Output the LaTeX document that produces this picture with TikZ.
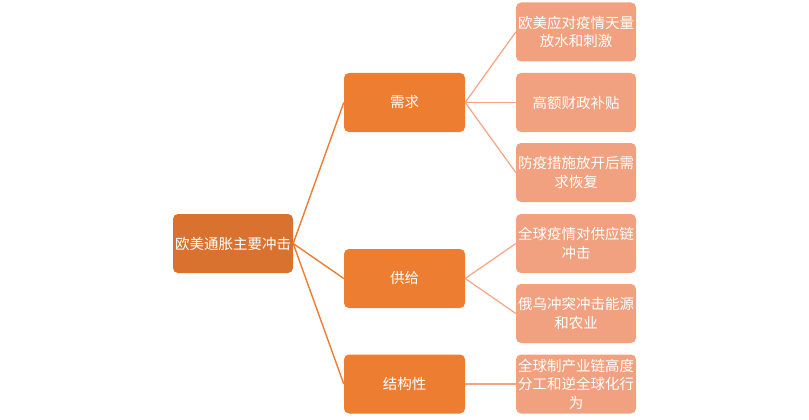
\documentclass[tikz,border=0pt]{standalone}
\usepackage{fontspec}
\setmainfont{Noto Sans CJK SC}
\definecolor{rootc}{RGB}{217,114,46}
\definecolor{midc}{RGB}{237,125,49}
\definecolor{leafc}{RGB}{241,161,127}
\definecolor{linea}{RGB}{237,125,49}
\definecolor{lineb}{RGB}{243,164,130}
\tikzset{
  box/.style={rounded corners=5pt, inner sep=0pt, minimum width=120pt, minimum height=59pt,
    text=white, align=center, font=\fontsize{14.5pt}{18.5pt}\selectfont},
  rootbox/.style={box, fill=rootc},
  midbox/.style={box, fill=midc, minimum width=121pt},
  leafbox/.style={box, fill=leafc},
  conna/.style={draw=linea, line width=1.4pt},
  connb/.style={draw=lineb, line width=1.2pt}
}
\begin{document}
\begin{tikzpicture}[x=1pt,y=-1pt]
\useasboundingbox (0,0) rectangle (809,420);
\node[rootbox] (root) at (233,243.5) {欧美通胀主要冲击};
\node[midbox] (m1) at (404.5,102.5) {需求};
\node[midbox] (m2) at (404.5,278.5) {供给};
\node[midbox] (m3) at (404.5,384) {结构性};
\node[leafbox] (l1) at (576,32) {欧美应对疫情天量\\放水和刺激};
\node[leafbox] (l2) at (576,102.5) {高额财政补贴};
\node[leafbox] (l3) at (576,172.5) {防疫措施放开后需\\求恢复};
\node[leafbox] (l4) at (576,243.5) {全球疫情对供应链\\冲击};
\node[leafbox] (l5) at (576,313.5) {俄乌冲突冲击能源\\和农业};
\node[leafbox] (l6) at (576,384) {全球制产业链高度\\分工和逆全球化行\\为};
\draw[conna] (root.east) -- (m1.west);
\draw[conna] (root.east) -- (m2.west);
\draw[conna] (root.east) -- (m3.west);
\draw[connb] (m1.east) -- (l1.west);
\draw[connb] (m1.east) -- (l2.west);
\draw[connb] (m1.east) -- (l3.west);
\draw[connb] (m2.east) -- (l4.west);
\draw[connb] (m2.east) -- (l5.west);
\draw[connb] (m3.east) -- (l6.west);
\end{tikzpicture}
\end{document}
